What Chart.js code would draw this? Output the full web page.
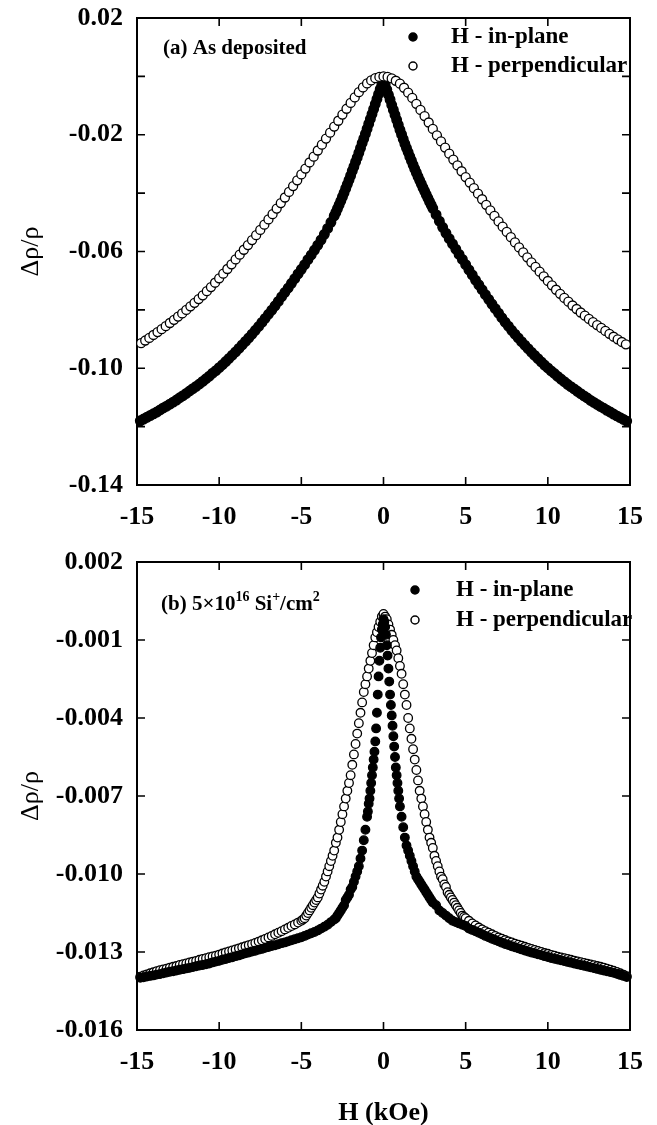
<!DOCTYPE html>
<html lang="en">
<head>
  <meta charset="UTF-8">
  <title>Magnetoresistance vs field</title>
  <script src="https://cdn.jsdelivr.net/npm/chart.js"></script>
  <style>
    body { margin: 0; background: #fff; }
    canvas { position: absolute; left: 0; }
    #chartA { top: 0; }
    #chartB { top: 545px; }
  </style>
</head>
<body>
  <canvas id="chartA" width="657" height="545"></canvas>
  <canvas id="chartB" width="657" height="580"></canvas>
  <script>
    // (a) as deposited: field (kOe) and delta rho / rho
    const hInPlaneA = [
      -14.8, -14.6, -14.4, -14.2, -14.0, -13.8, -13.6, -13.4, -13.2, -13.0,
      -12.8, -12.6, -12.4, -12.2, -12.0, -11.8, -11.6, -11.4, -11.2, -11.0,
      -10.8, -10.6, -10.4, -10.2, -10.0, -9.8, -9.6, -9.4, -9.2, -9.0,
      -8.8, -8.6, -8.4, -8.2, -8.0, -7.8, -7.6, -7.4, -7.2, -7.0,
      -6.8, -6.6, -6.4, -6.2, -6.0, -5.8, -5.6, -5.4, -5.2, -5.0,
      -4.8, -4.6, -4.4, -4.2, -4.0, -3.8, -3.6, -3.4, -3.2,
      -3.0, -2.9, -2.8, -2.7, -2.6, -2.5, -2.4, -2.3, -2.2, -2.1,
      -2.0, -1.9, -1.8, -1.7, -1.6, -1.5, -1.4, -1.3, -1.2, -1.1,
      -1.0, -0.9, -0.8, -0.7, -0.6, -0.5, -0.4, -0.3, -0.2, -0.1,
      0,
      0.1, 0.2, 0.3, 0.4, 0.5, 0.6, 0.7, 0.8, 0.9, 1.0,
      1.1, 1.2, 1.3, 1.4, 1.5, 1.6, 1.7, 1.8, 1.9, 2.0,
      2.1, 2.2, 2.3, 2.4, 2.5, 2.6, 2.7, 2.8, 2.9, 3.0,
      3.2, 3.4, 3.6, 3.8, 4.0, 4.2, 4.4, 4.6, 4.8, 5.0,
      5.2, 5.4, 5.6, 5.8, 6.0, 6.2, 6.4, 6.6, 6.8, 7.0,
      7.2, 7.4, 7.6, 7.8, 8.0, 8.2, 8.4, 8.6, 8.8, 9.0,
      9.2, 9.4, 9.6, 9.8, 10.0, 10.2, 10.4, 10.6, 10.8, 11.0,
      11.2, 11.4, 11.6, 11.8, 12.0, 12.2, 12.4, 12.6, 12.8, 13.0,
      13.2, 13.4, 13.6, 13.8, 14.0, 14.2, 14.4, 14.6, 14.8
    ];
    const inPlaneA = [
      -0.1180, -0.1174, -0.1168, -0.1162, -0.1156, -0.1150, -0.1143, -0.1136, -0.1130, -0.1123,
      -0.1116, -0.1109, -0.1101, -0.1094, -0.1086, -0.1078, -0.1070, -0.1062, -0.1054, -0.1045,
      -0.1036, -0.1027, -0.1017, -0.1008, -0.0998, -0.0988, -0.0977, -0.0966, -0.0955, -0.0944,
      -0.0932, -0.0920, -0.0908, -0.0896, -0.0883, -0.0870, -0.0857, -0.0843, -0.0829, -0.0815,
      -0.0801, -0.0786, -0.0771, -0.0755, -0.0740, -0.0725, -0.0709, -0.0693, -0.0677, -0.0661,
      -0.0645, -0.0628, -0.0612, -0.0595, -0.0578, -0.0560, -0.0541, -0.0521, -0.0500,
      -0.0478, -0.0466, -0.0453, -0.0440, -0.0427, -0.0413, -0.0399, -0.0384, -0.0370, -0.0355,
      -0.0340, -0.0324, -0.0309, -0.0293, -0.0278, -0.0262, -0.0246, -0.0229, -0.0213, -0.0197,
      -0.0180, -0.0163, -0.0146, -0.0129, -0.0112, -0.0095, -0.0078, -0.0061, -0.0044, -0.0027,
      -0.0012,
      -0.0028, -0.0045, -0.0063, -0.0080, -0.0098, -0.0115, -0.0132, -0.0149, -0.0166, -0.0183,
      -0.0199, -0.0215, -0.0231, -0.0246, -0.0260, -0.0275, -0.0289, -0.0303, -0.0317, -0.0330,
      -0.0343, -0.0356, -0.0368, -0.0381, -0.0393, -0.0405, -0.0417, -0.0429, -0.0440, -0.0452,
      -0.0474, -0.0496, -0.0517, -0.0537, -0.0556, -0.0574, -0.0592, -0.0610, -0.0627, -0.0645,
      -0.0663, -0.0680, -0.0698, -0.0714, -0.0731, -0.0748, -0.0764, -0.0780, -0.0796, -0.0811,
      -0.0827, -0.0842, -0.0856, -0.0870, -0.0883, -0.0896, -0.0909, -0.0921, -0.0933, -0.0945,
      -0.0956, -0.0967, -0.0978, -0.0989, -0.0999, -0.1009, -0.1018, -0.1028, -0.1037, -0.1046,
      -0.1055, -0.1063, -0.1071, -0.1079, -0.1087, -0.1095, -0.1102, -0.1110, -0.1117, -0.1124,
      -0.1131, -0.1137, -0.1144, -0.1150, -0.1157, -0.1163, -0.1169, -0.1175, -0.1181
    ];
    const hPerpA = [
      -14.75, -14.5, -14.25, -14, -13.75, -13.5, -13.25, -13, -12.75, -12.5, -12.25, -12,
      -11.75, -11.5, -11.25, -11, -10.75, -10.5, -10.25, -10, -9.75, -9.5, -9.25, -9,
      -8.75, -8.5, -8.25, -8, -7.75, -7.5, -7.25, -7, -6.75, -6.5, -6.25, -6,
      -5.75, -5.5, -5.25, -5, -4.75, -4.5, -4.25, -4, -3.75, -3.5, -3.25, -3,
      -2.75, -2.5, -2.25, -2, -1.75, -1.5, -1.25, -1, -0.75, -0.5, -0.25, 0,
      0.25, 0.5, 0.75, 1, 1.25, 1.5, 1.75, 2, 2.25, 2.5, 2.75, 3,
      3.25, 3.5, 3.75, 4, 4.25, 4.5, 4.75, 5, 5.25, 5.5, 5.75, 6,
      6.25, 6.5, 6.75, 7, 7.25, 7.5, 7.75, 8, 8.25, 8.5, 8.75, 9,
      9.25, 9.5, 9.75, 10, 10.25, 10.5, 10.75, 11, 11.25, 11.5, 11.75, 12,
      12.25, 12.5, 12.75, 13, 13.25, 13.5, 13.75, 14, 14.25, 14.5, 14.75
    ];
    const perpA = [
      -0.0914, -0.0905, -0.0896, -0.0886, -0.0876, -0.0866, -0.0856, -0.0845, -0.0834, -0.0823, -0.0812, -0.0800,
      -0.0788, -0.0776, -0.0763, -0.0750, -0.0736, -0.0722, -0.0707, -0.0692, -0.0676, -0.0660, -0.0644, -0.0627,
      -0.0611, -0.0594, -0.0578, -0.0561, -0.0544, -0.0526, -0.0508, -0.0490, -0.0472, -0.0453, -0.0434, -0.0415,
      -0.0396, -0.0376, -0.0356, -0.0336, -0.0316, -0.0295, -0.0275, -0.0254, -0.0234, -0.0213, -0.0193, -0.0172,
      -0.0152, -0.0131, -0.0111, -0.0091, -0.0072, -0.0054, -0.0038, -0.0024, -0.0014, -0.0006, -0.0002, 0.0000,
      -0.0002, -0.0007, -0.0015, -0.0025, -0.0039, -0.0056, -0.0074, -0.0094, -0.0115, -0.0136, -0.0158, -0.0180,
      -0.0202, -0.0223, -0.0244, -0.0265, -0.0285, -0.0305, -0.0325, -0.0345, -0.0364, -0.0383, -0.0402, -0.0421,
      -0.0440, -0.0459, -0.0478, -0.0497, -0.0515, -0.0533, -0.0551, -0.0569, -0.0586, -0.0603, -0.0620, -0.0637,
      -0.0653, -0.0669, -0.0685, -0.0701, -0.0716, -0.0731, -0.0745, -0.0759, -0.0772, -0.0785, -0.0797, -0.0809,
      -0.0820, -0.0831, -0.0842, -0.0852, -0.0862, -0.0872, -0.0882, -0.0892, -0.0901, -0.0910, -0.0918
    ];

    // (b) 5e16 Si+/cm2: wings share the same field steps, the centre is finer
    const hWingLeftB = [
      -14.8, -14.6, -14.4, -14.2, -14.0, -13.8, -13.6, -13.4, -13.2, -13.0,
      -12.8, -12.6, -12.4, -12.2, -12.0, -11.8, -11.6, -11.4, -11.2, -11.0,
      -10.8, -10.6, -10.4, -10.2, -10.0, -9.8, -9.6, -9.4, -9.2, -9.0,
      -8.8, -8.6, -8.4, -8.2, -8.0, -7.8, -7.6, -7.4, -7.2, -7.0,
      -6.8, -6.6, -6.4, -6.2, -6.0, -5.8, -5.6, -5.4, -5.2
    ];
    const hWingRightB = [
      5.2, 5.4, 5.6, 5.8, 6.0, 6.2, 6.4, 6.6, 6.8, 7.0,
      7.2, 7.4, 7.6, 7.8, 8.0, 8.2, 8.4, 8.6, 8.8, 9.0,
      9.2, 9.4, 9.6, 9.8, 10.0, 10.2, 10.4, 10.6, 10.8, 11.0,
      11.2, 11.4, 11.6, 11.8, 12.0, 12.2, 12.4, 12.6, 12.8, 13.0,
      13.2, 13.4, 13.6, 13.8, 14.0, 14.2, 14.4, 14.6, 14.8
    ];
    const hInPlaneCoreB = [
      -5.0, -4.8, -4.6, -4.4, -4.2, -4.0, -3.8, -3.6, -3.4, -3.2,
      -3.0, -2.9, -2.8, -2.7, -2.6, -2.5, -2.4, -2.3, -2.2, -2.1,
      -2.0, -1.9, -1.8, -1.7, -1.6, -1.5, -1.4, -1.3, -1.2, -1.1,
      -1.0, -0.95, -0.9, -0.85, -0.8, -0.75, -0.7, -0.65, -0.6, -0.55,
      -0.5, -0.45, -0.4, -0.35, -0.3, -0.25, -0.2, -0.15, -0.1, -0.05,
      0,
      0.05, 0.1, 0.15, 0.2, 0.25, 0.3, 0.35, 0.4, 0.45, 0.5,
      0.55, 0.6, 0.65, 0.7, 0.75, 0.8, 0.85, 0.9, 0.95, 1.0,
      1.1, 1.2, 1.3, 1.4, 1.5, 1.6, 1.7, 1.8, 1.9, 2.0,
      2.1, 2.2, 2.3, 2.4, 2.5, 2.6, 2.7, 2.8, 2.9, 3.0,
      3.2, 3.4, 3.6, 3.8, 4.0, 4.2, 4.4, 4.6, 4.8, 5.0
    ];
    const hPerpCoreB = [
      -5.0, -4.9, -4.8, -4.7, -4.6, -4.5, -4.4, -4.3, -4.2, -4.1,
      -4.0, -3.9, -3.8, -3.7, -3.6, -3.5, -3.4, -3.3, -3.2, -3.1,
      -3.0, -2.9, -2.8, -2.7, -2.6, -2.5, -2.4, -2.3, -2.2, -2.1,
      -2.0, -1.9, -1.8, -1.7, -1.6, -1.5, -1.4, -1.3, -1.2, -1.1,
      -1.0, -0.9, -0.8, -0.7, -0.6, -0.5, -0.4, -0.3, -0.2, -0.1,
      0,
      0.1, 0.2, 0.3, 0.4, 0.5, 0.6, 0.7, 0.8, 0.9, 1.0,
      1.1, 1.2, 1.3, 1.4, 1.5, 1.6, 1.7, 1.8, 1.9, 2.0,
      2.1, 2.2, 2.3, 2.4, 2.5, 2.6, 2.7, 2.8, 2.9, 3.0,
      3.1, 3.2, 3.3, 3.4, 3.5, 3.6, 3.7, 3.8, 3.9, 4.0,
      4.1, 4.2, 4.3, 4.4, 4.5, 4.6, 4.7, 4.8, 4.9, 5.0
    ];
    const inPlaneB = [
      -0.01399, -0.01397, -0.01394, -0.01392, -0.01390, -0.01387, -0.01385, -0.01382, -0.01379, -0.01376,
      -0.01374, -0.01371, -0.01368, -0.01366, -0.01363, -0.01361, -0.01358, -0.01355, -0.01352, -0.01350,
      -0.01347, -0.01344, -0.01340, -0.01337, -0.01334, -0.01330, -0.01327, -0.01323, -0.01320, -0.01316,
      -0.01313, -0.01309, -0.01305, -0.01302, -0.01298, -0.01295, -0.01291, -0.01288, -0.01284, -0.01281,
      -0.01277, -0.01274, -0.01270, -0.01266, -0.01263, -0.01259, -0.01255, -0.01251, -0.01247,
      -0.01243, -0.01238, -0.01233, -0.01228, -0.01223, -0.01217, -0.01210, -0.01203, -0.01195, -0.01185,
      -0.01175, -0.0117, -0.0116, -0.0115, -0.0114, -0.0113, -0.0112, -0.0110, -0.0109, -0.0108,
      -0.0106, -0.0105, -0.0103, -0.0101, -0.0099, -0.0097, -0.0094, -0.0091, -0.0087, -0.0083,
      -0.0078, -0.0076, -0.0073, -0.0071, -0.0068, -0.0065, -0.0062, -0.0059, -0.0056, -0.0053,
      -0.0049, -0.0044, -0.0038, -0.0031, -0.0024, -0.0018, -0.0013, -0.0009, -0.0006, -0.0004,
      -0.0002,
      -0.0003, -0.0005, -0.0008, -0.0012, -0.0016, -0.0021, -0.0026, -0.0031, -0.0035, -0.0039,
      -0.0043, -0.0047, -0.0051, -0.0055, -0.0059, -0.0062, -0.0065, -0.0068, -0.0071, -0.0074,
      -0.0078, -0.0082, -0.0086, -0.0089, -0.0091, -0.0093, -0.0095, -0.0097, -0.0099, -0.0101,
      -0.0102, -0.0103, -0.0104, -0.0105, -0.0106, -0.0107, -0.0108, -0.0109, -0.0110, -0.0111,
      -0.0112, -0.0114, -0.0115, -0.0116, -0.0117, -0.0118, -0.01185, -0.0119, -0.01195, -0.0120,
      -0.0121, -0.01215, -0.0122, -0.01226, -0.01232, -0.01238, -0.01243, -0.01249, -0.01254, -0.01259,
      -0.01264, -0.01269, -0.01273, -0.01278, -0.01282, -0.01286, -0.0129, -0.01294, -0.01298, -0.01302,
      -0.01305, -0.01309, -0.01312, -0.01316, -0.01319, -0.01323, -0.01326, -0.01329, -0.01332, -0.01335,
      -0.01338, -0.01341, -0.01344, -0.01347, -0.0135, -0.01353, -0.01356, -0.01359, -0.01362, -0.01365,
      -0.01368, -0.01371, -0.01374, -0.01377, -0.0138, -0.01384, -0.01388, -0.01392, -0.01396
    ];
    const perpB = [
      -0.01395, -0.0139, -0.01386, -0.01382, -0.01378, -0.01374, -0.0137, -0.01367, -0.01364, -0.0136,
      -0.01357, -0.01354, -0.0135, -0.01347, -0.01344, -0.0134, -0.01337, -0.01334, -0.0133, -0.01327,
      -0.01324, -0.0132, -0.01317, -0.01314, -0.0131, -0.01306, -0.01302, -0.01298, -0.01294, -0.0129,
      -0.01286, -0.01282, -0.01278, -0.01274, -0.0127, -0.01265, -0.0126, -0.01255, -0.0125, -0.01244,
      -0.01238, -0.01232, -0.01226, -0.0122, -0.01213, -0.01207, -0.0120, -0.01194, -0.01187,
      -0.0118, -0.01175, -0.0117, -0.0116, -0.0115, -0.0114, -0.0113, -0.0112, -0.0111, -0.0110,
      -0.0109, -0.01075, -0.0106, -0.01045, -0.0103, -0.0101, -0.0099, -0.0097, -0.0095, -0.0093,
      -0.0091, -0.0088, -0.0086, -0.0083, -0.0080, -0.0077, -0.0074, -0.0071, -0.0068, -0.0065,
      -0.0062, -0.0058, -0.0054, -0.0050, -0.0046, -0.0042, -0.0038, -0.0034, -0.0030, -0.0027,
      -0.0024, -0.0021, -0.0018, -0.0015, -0.0012, -0.0009, -0.0007, -0.0005, -0.0003, -0.0001,
      0.0000,
      -0.0001, -0.0002, -0.0004, -0.0006, -0.0008, -0.0010, -0.0012, -0.0014, -0.0017, -0.0020,
      -0.0023, -0.0027, -0.0031, -0.0035, -0.0040, -0.0044, -0.0048, -0.0052, -0.0056, -0.0060,
      -0.0064, -0.0068, -0.0071, -0.0074, -0.0077, -0.0080, -0.0083, -0.0086, -0.0088, -0.0090,
      -0.0093, -0.0095, -0.0097, -0.0099, -0.0101, -0.0102, -0.0104, -0.0105, -0.0107, -0.0108,
      -0.0109, -0.0110, -0.0111, -0.0112, -0.0113, -0.0114, -0.0115, -0.0116, -0.01165, -0.0117,
      -0.0118, -0.0119, -0.01198, -0.01206, -0.01213, -0.0122, -0.01226, -0.01232, -0.01238, -0.01244,
      -0.01249, -0.01254, -0.01259, -0.01263, -0.01268, -0.01272, -0.01276, -0.0128, -0.01284, -0.01288,
      -0.01292, -0.01296, -0.013, -0.01304, -0.01307, -0.01311, -0.01314, -0.01318, -0.01321, -0.01324,
      -0.01327, -0.0133, -0.01333, -0.01336, -0.01339, -0.01342, -0.01345, -0.01348, -0.01351, -0.01354,
      -0.01357, -0.0136, -0.01364, -0.01368, -0.01372, -0.01377, -0.01382, -0.01387, -0.01393
    ];
    const hInPlaneB = [...hWingLeftB, ...hInPlaneCoreB, ...hWingRightB];
    const hPerpB = [...hWingLeftB, ...hPerpCoreB, ...hWingRightB];

    const xTicks = [-15, -10, -5, 0, 5, 10, 15];
    const yTicksA = [0.02, 0, -0.02, -0.04, -0.06, -0.08, -0.10, -0.12, -0.14];
    const yLabelsA = ['0.02', '', '-0.02', '', '-0.06', '', '-0.10', '', '-0.14'];
    const yTicksB = [0.002, -0.001, -0.004, -0.007, -0.010, -0.013, -0.016];
    const yLabelsB = ['0.002', '-0.001', '-0.004', '-0.007', '-0.010', '-0.013', '-0.016'];

    const SERIF = "'Liberation Serif', 'Times New Roman', serif";

    function points(h, v) {
      return h.map((x, i) => ({ x: x, y: v[i] }));
    }

    // box round the plot with short inward ticks on all four sides
    const frameTicks = {
      id: 'frameTicks',
      beforeDatasetsDraw(chart, args, opts) {
        const { ctx, chartArea: a } = chart;
        const x = chart.scales.x, y = chart.scales.y;
        ctx.save();
        ctx.strokeStyle = '#000';
        ctx.lineWidth = 1.6;
        ctx.beginPath();
        xTicks.forEach(v => {
          const p = x.getPixelForValue(v);
          ctx.moveTo(p, a.bottom); ctx.lineTo(p, a.bottom - 8);
          ctx.moveTo(p, a.top); ctx.lineTo(p, a.top + 8);
        });
        opts.ticks.forEach(v => {
          const p = y.getPixelForValue(v);
          ctx.moveTo(a.left, p); ctx.lineTo(a.left + 8, p);
          ctx.moveTo(a.right, p); ctx.lineTo(a.right - 8, p);
        });
        ctx.stroke();
        ctx.lineWidth = 2;
        ctx.strokeRect(a.left, a.top, a.right - a.left, a.bottom - a.top);
        ctx.restore();
      }
    };

    // legend and panel caption inside the plot
    const panelText = {
      id: 'panelText',
      afterDraw(chart, args, opts) {
        const { ctx, chartArea: a } = chart;
        ctx.save();
        ctx.textBaseline = 'middle';
        chart.data.datasets.forEach((ds, i) => {
          const my = a.top + opts.rowY[i];
          ctx.beginPath();
          ctx.arc(a.left + opts.markerX, my, 4, 0, Math.PI * 2);
          ctx.fillStyle = ds.pointBackgroundColor;
          ctx.fill();
          ctx.lineWidth = 1.5;
          ctx.strokeStyle = '#000';
          ctx.stroke();
          ctx.fillStyle = '#000';
          ctx.font = 'bold 23px ' + SERIF;
          ctx.fillText(ds.label, a.left + opts.textX, my);
        });
        let tx = a.left + opts.noteX;
        const ty = a.top + opts.noteY;
        ctx.fillStyle = '#000';
        opts.note.forEach(([s, sup]) => {
          ctx.font = sup ? 'bold 14px ' + SERIF : 'bold 21px ' + SERIF;
          ctx.fillText(s, tx, sup ? ty - 8 : ty);
          tx += ctx.measureText(s).width;
        });
        ctx.restore();
      }
    };

    function makeChart(id, cfg) {
      const tickFont = { family: SERIF, size: 26, weight: 'bold' };
      return new Chart(document.getElementById(id), {
        type: 'scatter',
        data: {
          datasets: [{
            label: 'H - in-plane',
            data: points(cfg.hIn, cfg.inPlane),
            pointRadius: cfg.rIn,
            pointBorderWidth: 1.3,
            pointBackgroundColor: '#000',
            pointBorderColor: '#000',
            order: cfg.inPlaneOrder,
            clip: false
          }, {
            label: 'H - perpendicular',
            data: points(cfg.hPerp, cfg.perp),
            pointRadius: cfg.rPerp,
            pointBorderWidth: 1.3,
            pointBackgroundColor: '#fff',
            pointBorderColor: '#000',
            order: 1 - cfg.inPlaneOrder,
            clip: false
          }]
        },
        options: {
          responsive: false,
          animation: false,
          devicePixelRatio: 1,
          layout: { padding: cfg.padding },
          plugins: {
            legend: { display: false },
            tooltip: { enabled: false },
            frameTicks: { ticks: cfg.yTicks },
            panelText: cfg.text
          },
          scales: {
            x: {
              type: 'linear',
              min: -15,
              max: 15,
              grid: { display: false, drawTicks: false },
              border: { display: false },
              afterBuildTicks: s => { s.ticks = xTicks.map(v => ({ value: v })); },
              afterFit: s => { s.height = cfg.xHeight; s.paddingLeft = 0; s.paddingRight = 0; },
              ticks: { color: '#000', padding: 17, autoSkip: false, maxRotation: 0, font: tickFont, callback: v => String(v) },
              title: cfg.xTitle
            },
            y: {
              type: 'linear',
              min: cfg.yMin,
              max: cfg.yMax,
              grid: { display: false, drawTicks: false },
              border: { display: false },
              afterBuildTicks: s => { s.ticks = cfg.yTicks.map(v => ({ value: v })); },
              afterFit: s => { s.width = 137; s.paddingTop = 0; s.paddingBottom = 0; },
              ticks: { color: '#000', padding: 14, autoSkip: false, font: tickFont, callback: (v, i) => cfg.yLabels[i] },
              title: {
                display: true,
                text: 'Δρ/ρ',
                color: '#000',
                font: { family: SERIF, size: 26 },
                padding: { top: 16, bottom: 0 }
              }
            }
          }
        },
        plugins: [frameTicks, panelText]
      });
    }

    makeChart('chartA', {
      hIn: hInPlaneA, inPlane: inPlaneA, hPerp: hPerpA, perp: perpA,
      rIn: 4.8, rPerp: 4.5, inPlaneOrder: 1,
      yMin: -0.14, yMax: 0.02, yTicks: yTicksA, yLabels: yLabelsA,
      padding: { left: 0, right: 27, top: 18, bottom: 20 },
      xHeight: 40,
      xTitle: { display: false },
      text: {
        rowY: [19, 48], markerX: 276, textX: 314,
        noteX: 26, noteY: 31, note: [['(a) As deposited', false]]
      }
    });

    makeChart('chartB', {
      hIn: hInPlaneB, inPlane: inPlaneB, hPerp: hPerpB, perp: perpB,
      rIn: 4.3, rPerp: 4.3, inPlaneOrder: 0,
      yMin: -0.016, yMax: 0.002, yTicks: yTicksB, yLabels: yLabelsB,
      padding: { left: 0, right: 27, top: 17, bottom: 0 },
      xHeight: 95,
      xTitle: {
        display: true,
        text: 'H (kOe)',
        color: '#000',
        font: { family: SERIF, size: 26, weight: 'bold' },
        padding: { top: 0, bottom: -4 }
      },
      text: {
        rowY: [28, 58], markerX: 278, textX: 319,
        noteX: 24, noteY: 43,
        note: [['(b) 5×10', false], ['16', true], [' Si', false], ['+', true], ['/cm', false], ['2', true]]
      }
    });
  </script>
</body>
</html>
